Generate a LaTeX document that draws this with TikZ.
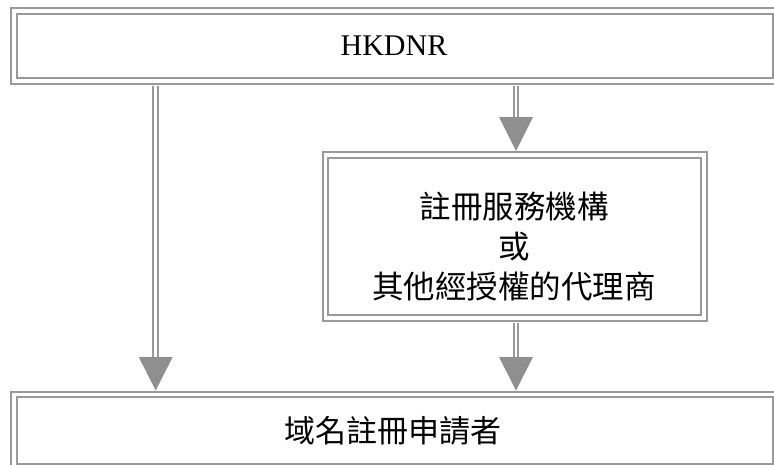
\documentclass[tikz,border=0pt]{standalone}
\usepackage{fontspec}
\setmainfont{Liberation Serif}
\newfontfamily\cjk{Noto Sans CJK TC}
\usetikzlibrary{calc}
\definecolor{lg}{HTML}{999999}
\definecolor{hg}{HTML}{8F8F8F}
\begin{document}
\begin{tikzpicture}[x=1pt,y=-1pt,
  box/.style={draw=lg, double=white, line width=2pt, double distance=3.5pt, rectangle, inner sep=0pt},
  shaft/.style={draw=lg, double=white, line width=2pt, double distance=2.8pt},
  head/.style={fill=hg},
  lab/.style={inner sep=0pt, text=black}]
\useasboundingbox (0,0) rectangle (774,464);
% boxes
\node[box, minimum width=762pt, minimum height=70pt] (hk) at (395,46) {};
\node[box, minimum width=378.5pt, minimum height=163pt] (reg) at (514.75,236.5) {};
\node[box, minimum width=762pt, minimum height=72.5pt] (app) at (395,430.75) {};
% labels
\node[lab, font=\fontsize{30}{30}\selectfont] (t1) at (394,46) {HKDNR};
\node[lab, font=\cjk\fontsize{31.5}{40}\selectfont, align=center] (t2) at (514,247) {註冊服務機構\\或\\其他經授權的代理商};
\node[lab, font=\cjk\fontsize{31}{31}\selectfont] (t3) at (393,431) {域名註冊申請者};
% arrow points (top of each head)
\coordinate (a1) at (155.7,357);
\coordinate (a2) at (516,117);
\coordinate (a3) at (516,357);
% left arrow HKDNR -> applicant
\draw[shaft] ($(hk.south -| a1)+(0,3.75)$) -- (a1);
\fill[head] ($(a1)+(-17,0)$) -- ($(a1)+(17,0)$) -- ($(app.north -| a1)+(0,-3)$) -- cycle;
% HKDNR -> registrar
\draw[shaft] ($(hk.south -| a2)+(0,3.75)$) -- (a2);
\fill[head] ($(a2)+(-17,0)$) -- ($(a2)+(17,0)$) -- ($(reg.north -| a2)+(0,-3)$) -- cycle;
% registrar -> applicant
\draw[shaft] ($(reg.south -| a3)+(0,3.75)$) -- (a3);
\fill[head] ($(a3)+(-17,0)$) -- ($(a3)+(17,0)$) -- ($(app.north -| a3)+(0,-3)$) -- cycle;
\end{tikzpicture}
\end{document}
